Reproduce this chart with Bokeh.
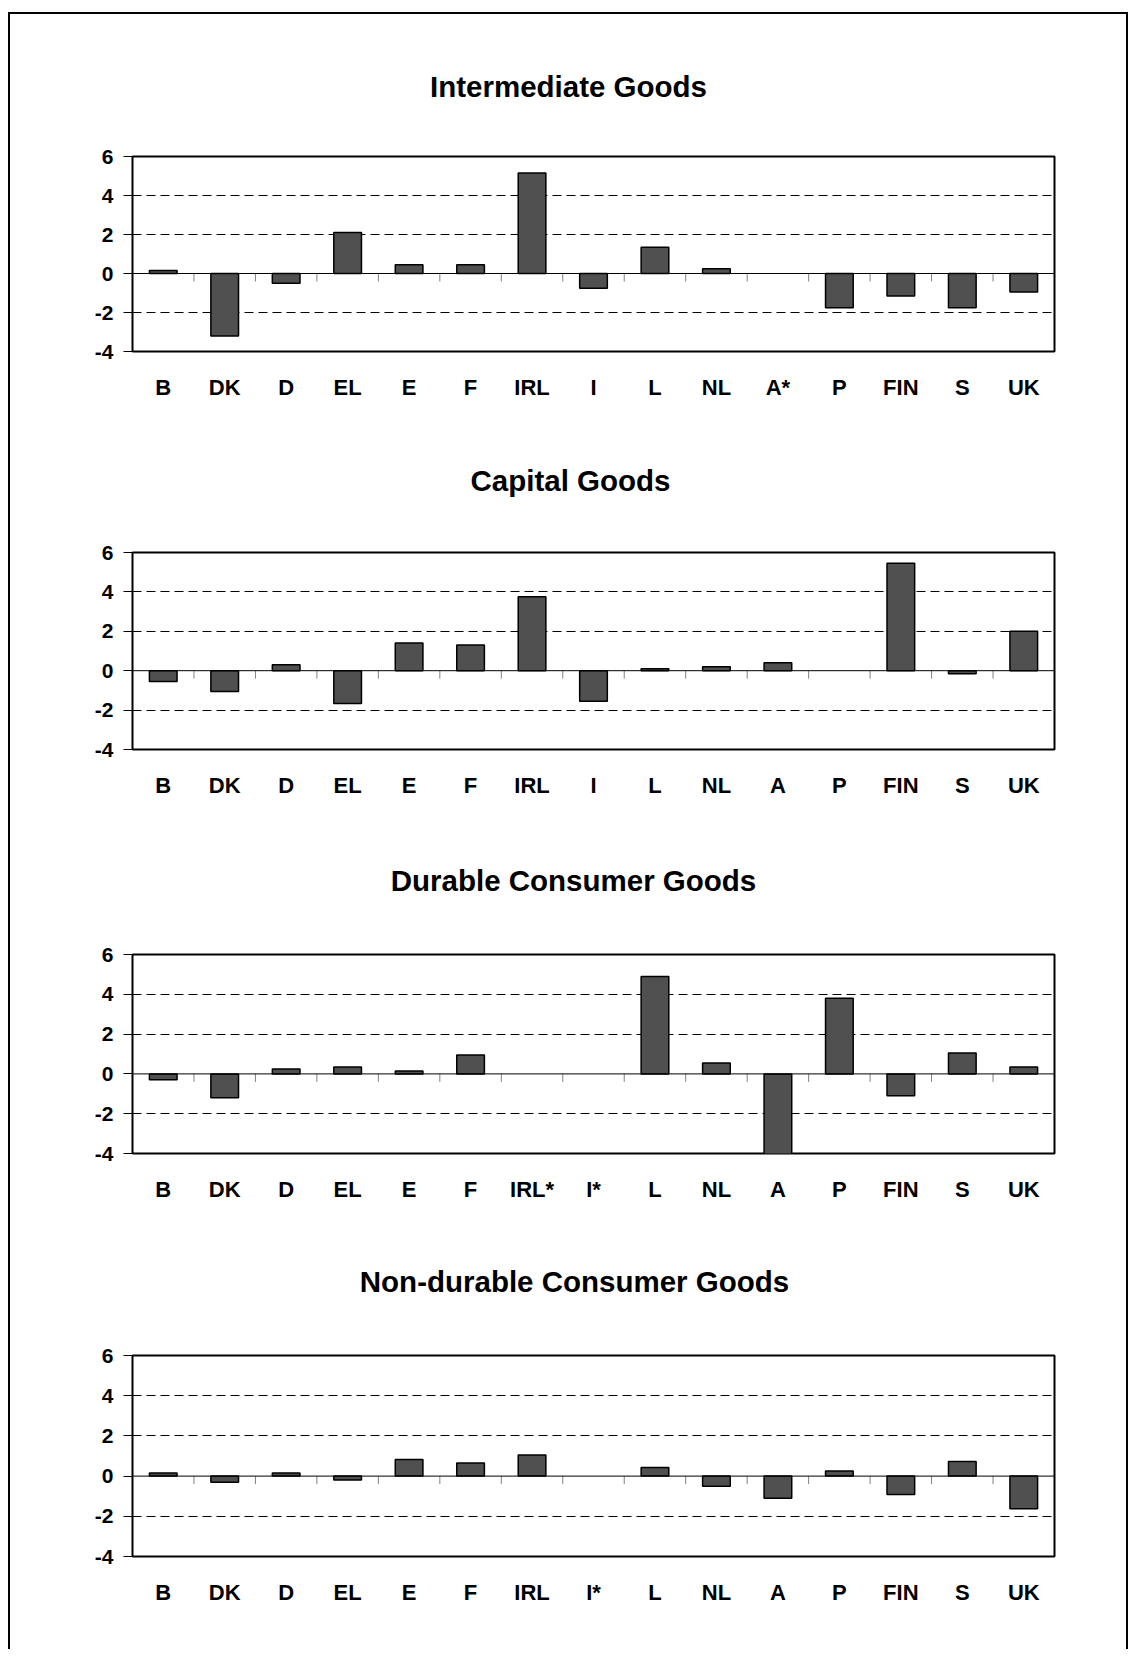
from bokeh.plotting import figure
from bokeh.models import Range1d, FixedTicker, Span
from bokeh.layouts import column
from bokeh.embed import file_html
from bokeh.resources import INLINE

# ---------------- data ----------------
title_intermediate = "Intermediate Goods"
title_capital = "Capital Goods"
title_durable = "Durable Consumer Goods"
title_nondurable = "Non-durable Consumer Goods"

cats_intermediate = ["B", "DK", "D", "EL", "E", "F", "IRL", "I", "L", "NL", "A*", "P", "FIN", "S", "UK"]
cats_capital = ["B", "DK", "D", "EL", "E", "F", "IRL", "I", "L", "NL", "A", "P", "FIN", "S", "UK"]
cats_durable = ["B", "DK", "D", "EL", "E", "F", "IRL*", "I*", "L", "NL", "A", "P", "FIN", "S", "UK"]
cats_nondurable = ["B", "DK", "D", "EL", "E", "F", "IRL", "I*", "L", "NL", "A", "P", "FIN", "S", "UK"]

vals_intermediate = [0.15, -3.2, -0.5, 2.1, 0.45, 0.45, 5.15, -0.75, 1.35, 0.25, None, -1.75, -1.15, -1.75, -0.95]
vals_capital = [-0.55, -1.05, 0.3, -1.67, 1.4, 1.3, 3.75, -1.55, 0.1, 0.2, 0.4, None, 5.45, -0.15, 2.0]
vals_durable = [-0.3, -1.2, 0.25, 0.35, 0.15, 0.95, None, None, 4.9, 0.55, -4.3, 3.8, -1.1, 1.05, 0.35]
vals_nondurable = [0.15, -0.3, 0.15, -0.2, 0.82, 0.65, 1.05, None, 0.43, -0.5, -1.1, 0.25, -0.92, 0.73, -1.62]

y_ticks = [-4, -2, 0, 2, 4, 6]
grid_ticks = [-2, 2, 4]

FONT = "Liberation Sans"
FIG_W = 1116
RIGHT = 72
TITLE_CENTER_PAGE = 568
TITLE_SIZE = 29.5

# Arial/Liberation Sans Bold advance widths (em/1000) for title centring
_W = {" ": 278, "-": 333, "A": 722, "B": 722, "C": 722, "D": 722, "G": 778, "I": 278,
      "N": 722, "a": 556, "b": 611, "c": 556, "d": 611, "e": 556, "i": 278, "l": 278,
      "m": 889, "n": 611, "o": 611, "p": 611, "r": 389, "s": 556, "t": 333, "u": 611}


def text_width(s, size):
    return sum(_W.get(ch, 600) for ch in s) / 1000.0 * size


def make_chart(title, cats, vals, left, height, top, frame_h, title_standoff):
    n = len(cats)
    p = figure(
        x_range=Range1d(0, n),
        y_range=Range1d(y_ticks[0], y_ticks[-1]),
        width=FIG_W, height=height,
        min_border_left=left, min_border_right=RIGHT,
        min_border_top=top, min_border_bottom=height - top - frame_h,
        output_backend="svg", toolbar_location=None, title=title,
    )
    centers = [i + 0.5 for i in range(n)]
    xs = [c for c, v in zip(centers, vals) if v is not None]
    tops = [v for v in vals if v is not None]

    # zero line
    p.add_layout(Span(location=0, dimension="width", line_color="black", line_width=1))

    # small grey separator ticks below the zero line between categories
    tick_len = 8 * (y_ticks[-1] - y_ticks[0]) / frame_h
    seps = list(range(1, n))
    p.segment(x0=seps, x1=seps, y0=[0] * len(seps), y1=[-tick_len] * len(seps),
              line_color="#808080", line_width=1)

    p.vbar(x=xs, top=tops, bottom=0, width=0.45,
           fill_color="#505050", line_color="black", line_width=1.5)

    # frame
    p.outline_line_color = "black"
    p.outline_line_width = 2
    p.background_fill_color = "white"
    p.border_fill_color = "white"

    # y axis
    ya = p.yaxis[0]
    ya.ticker = FixedTicker(ticks=y_ticks)
    ya.major_label_overrides = {t: str(t) for t in y_ticks}
    ya.major_tick_out = 9
    ya.major_tick_in = 0
    ya.minor_tick_out = 0
    ya.minor_tick_in = 0
    ya.major_tick_line_color = "black"
    ya.axis_line_color = None
    ya.major_label_text_font = FONT
    ya.major_label_text_font_style = "bold"
    ya.major_label_text_font_size = "21px"
    ya.major_label_text_color = "black"
    ya.major_label_standoff = 10

    # grid
    p.xgrid.grid_line_color = None
    p.ygrid.ticker = FixedTicker(ticks=grid_ticks)
    p.ygrid.grid_line_color = "black"
    p.ygrid.grid_line_dash = "9 5"
    p.ygrid.grid_line_width = 1

    # category axis (labels only)
    xa = p.xaxis[0]
    xa.ticker = FixedTicker(ticks=centers)
    xa.major_label_overrides = {c: lab for c, lab in zip(centers, cats)}
    xa.axis_line_color = None
    xa.major_tick_line_color = None
    xa.minor_tick_line_color = None
    xa.major_tick_out = 0
    xa.major_tick_in = 0
    xa.major_label_standoff = 23
    xa.major_label_text_font = FONT
    xa.major_label_text_font_style = "bold"
    xa.major_label_text_font_size = "22px"
    xa.major_label_text_color = "black"

    # title, centred on the whole chart area
    p.title.text_font = FONT
    p.title.text_font_style = "bold"
    p.title.text_font_size = f"{TITLE_SIZE}px"
    p.title.text_color = "black"
    p.title.align = "left"
    p.title.standoff = title_standoff
    p.title.offset = TITLE_CENTER_PAGE - text_width(title, TITLE_SIZE) / 2 - (10 + left)
    return p


p1 = make_chart(title_intermediate, cats_intermediate, vals_intermediate, 122, 392, 142, 195, 107)
p2 = make_chart(title_capital, cats_capital, vals_capital, 120, 398, 146, 197, 111)
p3 = make_chart(title_durable, cats_durable, vals_durable, 117, 401, 150, 199, 115)
p4 = make_chart(title_nondurable, cats_nondurable, vals_nondurable, 116, 444, 150, 201, 115)

layout = column(
    [p1, p2, p3, p4],
    styles={
        "border-top": "2px solid black",
        "border-left": "2px solid black",
        "border-right": "2px solid black",
        "margin-top": "12px",
        "margin-left": "8px",
    },
)

open("out.html", "w").write(file_html(layout, INLINE))
